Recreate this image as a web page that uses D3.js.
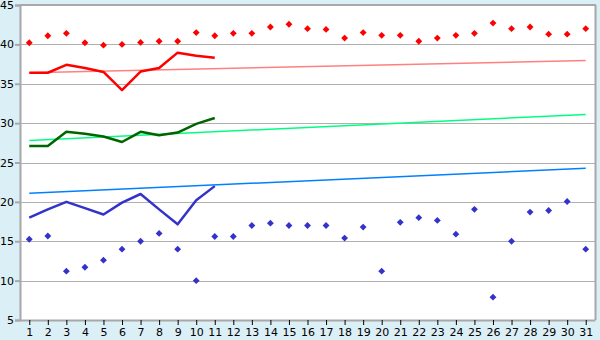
<!DOCTYPE html>
<html>
<head>
<meta charset="utf-8">
<script src="https://cdn.jsdelivr.net/npm/d3@7"></script>
<style>
  body { margin: 0; background: #dbeff6; }
  svg { display: block; }
  .axis text { font-family: "DejaVu Sans", sans-serif; font-size: 11px; fill: #000; }
</style>
</head>
<body>
<svg id="chart"></svg>
<script>
const days = d3.range(1, 32);

const redPoints = [40.2, 41.1, 41.4, 40.2, 39.9, 40.0, 40.25, 40.4, 40.4, 41.5,
  41.1, 41.4, 41.4, 42.2, 42.55, 42.0, 41.9, 40.8, 41.5, 41.15,
  41.15, 40.4, 40.8, 41.15, 41.4, 42.7, 42.0, 42.2, 41.3, 41.3, 42.0];
const bluePoints = [15.25, 15.67, 11.2, 11.7, 12.6, 14.0, 15.0, 16.0, 14.0, 10.0,
  15.6, 15.6, 17.0, 17.3, 17.0, 17.0, 17.0, 15.4, 16.8, 11.2,
  17.4, 18.0, 17.65, 15.9, 19.05, 7.9, 15.0, 18.7, 18.9, 20.05, 14.0];

const redLine = [36.4, 36.4, 37.4, 37.0, 36.5, 34.2, 36.55, 37.0, 38.95, 38.55, 38.3];
const greenLine = [27.1, 27.1, 28.9, 28.65, 28.3, 27.6, 28.9, 28.45, 28.8, 29.9, 30.65];
const blueLine = [18.0, 19.05, 20.0, 19.2, 18.4, 19.9, 21.0, 19.05, 17.15, 20.2, 22.0];

// trend lines: [first day, last day] values
const redTrend = [36.4, 37.95];
const greenTrend = [27.8, 31.1];
const blueTrend = [21.1, 24.26];

const yTicks = [5, 10, 15, 20, 25, 30, 35, 40, 45];

const W = 600, H = 340;
const margin = { top: 5, right: 5, bottom: 20, left: 20 };
const innerW = W - margin.left - margin.right;
const innerH = H - margin.top - margin.bottom;

const svg = d3.select("#chart").attr("width", W).attr("height", H);
const g = svg.append("g").attr("transform", `translate(${margin.left},${margin.top})`);

const x = d3.scalePoint().domain(days).range([0, innerW]).padding(0.5);
const y = d3.scaleLinear().domain([5, 45]).range([innerH, 0]);

g.append("rect").attr("width", innerW).attr("height", innerH).attr("fill", "#fff");

// gridlines
g.append("g")
  .selectAll("line")
  .data(yTicks)
  .join("line")
  .attr("x1", 0).attr("x2", innerW)
  .attr("y1", d => Math.round(y(d)) + 0.5).attr("y2", d => Math.round(y(d)) + 0.5)
  .attr("stroke", "#b0b0b0");

// right border
g.append("line")
  .attr("x1", innerW + 0.5).attr("x2", innerW + 0.5)
  .attr("y1", 0).attr("y2", innerH)
  .attr("stroke", "#a8a8a8").attr("stroke-width", 2);

const line = d3.line().x((d, i) => x(days[i])).y(d => y(d));
const trend = (vals) => [[x(days[0]), y(vals[0])], [x(days[days.length - 1]), y(vals[1])]];

// trend lines
[[redTrend, "#ff8080"], [greenTrend, "#00ff80"], [blueTrend, "#0080ff"]].forEach(([vals, c]) => {
  g.append("path")
    .attr("d", d3.line()(trend(vals)))
    .attr("fill", "none")
    .attr("stroke", c)
    .attr("stroke-width", 1.5);
});

// thick lines
[[redLine, "#ff0000"], [greenLine, "#006400"], [blueLine, "#3333cc"]].forEach(([vals, c]) => {
  g.append("path")
    .attr("d", line(vals))
    .attr("fill", "none")
    .attr("stroke", c)
    .attr("stroke-width", 2.5)
    .attr("stroke-linejoin", "round");
});

// diamond markers
const diamond = d3.symbol().type(d3.symbolDiamond2).size(30);
[[redPoints, "#ff0000"], [bluePoints, "#3333cc"]].forEach(([vals, c]) => {
  g.append("g")
    .selectAll("path")
    .data(vals)
    .join("path")
    .attr("d", diamond)
    .attr("transform", (d, i) => `translate(${x(days[i])},${y(d)})`)
    .attr("fill", c);
});

// axes
g.append("g")
  .attr("class", "axis")
  .call(d3.axisLeft(y).tickValues(yTicks).tickSize(5).tickPadding(1))
  .call(a => a.selectAll(".domain, .tick line").attr("stroke", "#a8a8a8").attr("stroke-width", 2));

g.append("g")
  .attr("class", "axis")
  .attr("transform", `translate(0,${innerH})`)
  .call(d3.axisBottom(x).tickSize(5).tickPadding(3).tickSizeOuter(0))
  .call(a => a.selectAll(".domain").attr("stroke", "#a8a8a8").attr("stroke-width", 2))
  .call(a => a.selectAll(".tick line").attr("stroke", "#000"));

// top border
g.append("line")
  .attr("x1", 0).attr("x2", innerW + 1)
  .attr("y1", 0).attr("y2", 0)
  .attr("stroke", "#a8a8a8").attr("stroke-width", 2);
</script>
</body>
</html>
